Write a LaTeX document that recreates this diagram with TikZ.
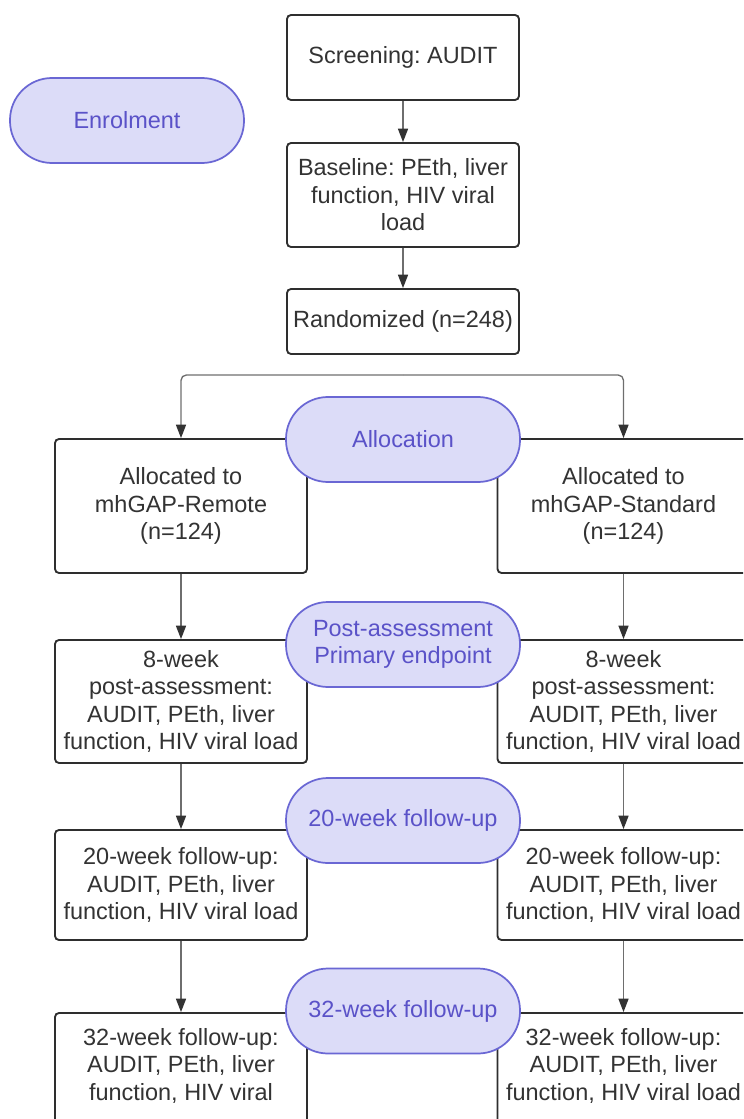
\documentclass[tikz,border=0pt]{standalone}
\usepackage{fontspec}
\setmainfont{Liberation Sans}
\usetikzlibrary{arrows.meta}
\frenchspacing
\definecolor{pillfill}{HTML}{DCDCF8}
\definecolor{pillline}{HTML}{6A67D4}
\definecolor{pilltext}{HTML}{5A52C8}
\definecolor{boxline}{HTML}{2E2E2E}
\definecolor{boxtext}{HTML}{333333}
\definecolor{arrline}{HTML}{6E6E6E}
\definecolor{arrhead}{HTML}{333333}
\tikzset{
  boxnode/.style={draw=boxline, line width=1.4pt, rounded corners=3pt, fill=white,
    text=boxtext, align=center, inner sep=0pt,
    font=\fontsize{17.6pt}{20.6pt}\selectfont\frenchspacing},
  colbox/.style={boxnode, minimum width=189pt},
  topbox/.style={boxnode, minimum width=174pt},
  pill/.style={draw=pillline, fill=pillfill, line width=1.3pt, rounded corners=31.5pt,
    minimum width=175.5pt, minimum height=63.75pt, inner sep=0pt, align=center,
    text=pilltext, font=\fontsize{17.6pt}{20.6pt}\selectfont\frenchspacing},
  arr/.style={draw=arrline, line width=1pt,
    -{Triangle[length=10pt, width=7.5pt, fill=arrhead, color=arrhead]}},
}
\begin{document}
\begin{tikzpicture}[x=0.75pt, y=-0.75pt]
\useasboundingbox (0,0) rectangle (743,1119);
\clip (0,0) rectangle (743,1119);
% top column
\node[topbox, minimum height=63.75pt] (screen) at (403,57.5) {Screening: AUDIT};
\node[topbox, minimum height=78pt] (base) at (403,195) {Baseline: PEth, liver\\function, HIV viral\\load};
\node[topbox, minimum height=48.75pt] (rand) at (403,321.5) {Randomized (n=248)};
% two arms
\node[colbox, minimum height=100.5pt] (L1) at (181,506) {Allocated to\\mhGAP-Remote\\(n=124)};
\node[colbox, minimum height=100.5pt] (R1) at (623.5,506) {Allocated to\\mhGAP-Standard\\(n=124)};
\node[colbox, minimum height=92.25pt] (L2) at (181,701.5) {8-week\\post-assessment:\\AUDIT, PEth, liver\\function, HIV viral load};
\node[colbox, minimum height=92.25pt] (R2) at (623.5,701.5) {8-week\\post-assessment:\\AUDIT, PEth, liver\\function, HIV viral load};
\node[colbox, minimum height=82.5pt] (L3) at (181,885) {20-week follow-up:\\AUDIT, PEth, liver\\function, HIV viral load};
\node[colbox, minimum height=82.5pt] (R3) at (623.5,885) {20-week follow-up:\\AUDIT, PEth, liver\\function, HIV viral load};
\node[colbox, minimum height=97.5pt] (L4) at (181,1078) {32-week follow-up:\\AUDIT, PEth, liver\\function, HIV viral\\\mbox{}};
\node[colbox, minimum height=97.5pt] (R4) at (623.5,1078) {32-week follow-up:\\AUDIT, PEth, liver\\function, HIV viral load\\\mbox{}};
% connectors
\coordinate (split) at (403,375);
\draw[arr] (screen) -- (base);
\draw[arr] (base) -- (rand);
\draw[arr, rounded corners=4pt] (split) -| (L1.north);
\draw[arr, rounded corners=4pt] (split) -| (R1.north);
\draw[arr] (L1) -- (L2);
\draw[arr] (R1) -- (R2);
\draw[arr] (L2) -- (L3);
\draw[arr] (R2) -- (R3);
\draw[arr] (L3) -- (L4);
\draw[arr] (R3) -- (R4);
% phase pills
\node[pill] (enrol) at (127,120.5) {Enrolment};
\node[pill] (alloc) at (403,439.5) {Allocation};
\node[pill] (post) at (403,644.5) {Post-assessment\\Primary endpoint};
\node[pill] (fu20) at (403,820.5) {20-week follow-up};
\node[pill] (fu32) at (403,1011) {32-week follow-up};
\end{tikzpicture}
\end{document}
